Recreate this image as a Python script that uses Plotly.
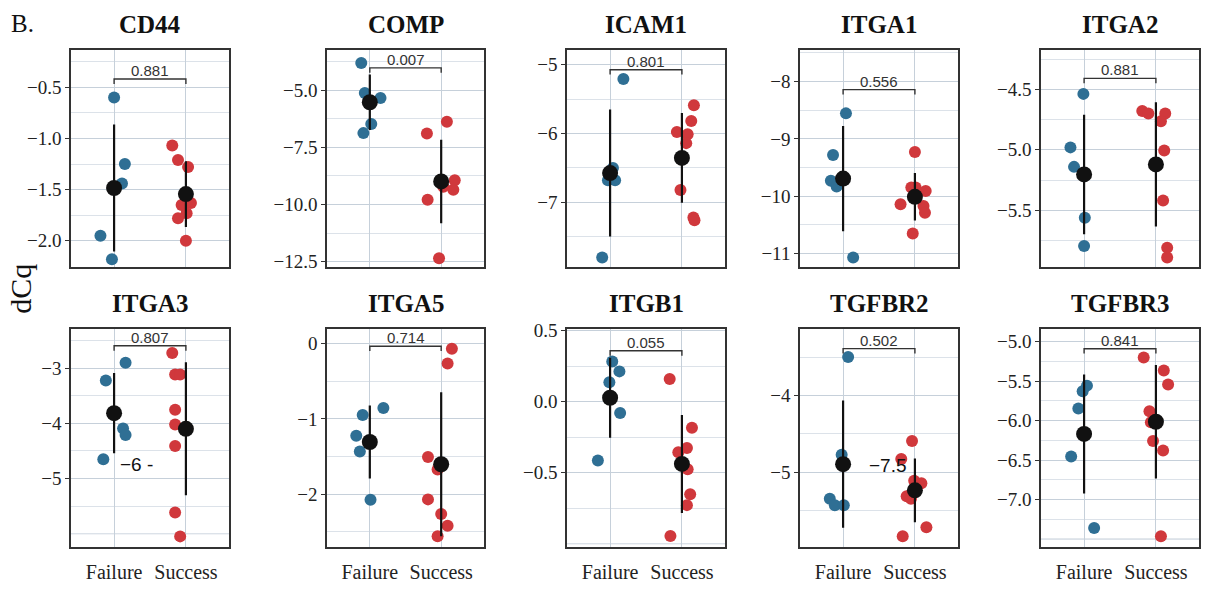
import numpy as np
import plotly.graph_objects as go

# ---------------- data ----------------
genes = ["CD44", "COMP", "ICAM1", "ITGA1", "ITGA2",
         "ITGA3", "ITGA5", "ITGB1", "TGFBR2", "TGFBR3"]
groups = ["Failure", "Success"]

failure_dcq = [
    [-0.60, -1.25, -1.44, -1.95, -2.18],
    [-3.82, -5.13, -5.34, -6.48, -6.88],
    [-5.21, -6.50, -6.68, -6.68, -7.80],
    [-8.555, -9.28, -9.73, -9.83, -11.07],
    [-4.538, -4.98, -5.141, -5.562, -5.795],
    [-2.90, -3.22, -4.09, -4.21, -4.65],
    [-0.857, -0.948, -1.225, -1.433, -2.074],
    [0.283, 0.214, 0.138, -0.080, -0.414],
    [-3.498, -4.774, -5.349, -5.434, -5.434],
    [-5.557, -5.627, -5.845, -6.452, -7.359],
]
success_dcq = [
    [-1.07, -1.21, -1.28, -1.65, -1.63, -1.73, -1.78, -2.00],
    [-6.90, -6.38, -8.94, -9.22, -9.35, -9.79, -12.35, -9.00],
    [-5.59, -5.82, -5.98, -6.01, -6.14, -6.82, -7.22, -7.26],
    [-9.23, -9.85, -9.85, -9.91, -10.14, -10.17, -10.29, -10.65],
    [-4.68, -4.70, -4.70, -4.765, -5.005, -5.418, -5.81, -5.89],
    [-2.72, -3.11, -3.11, -3.75, -4.02, -4.41, -5.615, -6.05],
    [-0.069, -0.264, -1.506, -1.671, -2.069, -2.264, -2.42, -2.558],
    [0.161, -0.184, -0.326, -0.356, -0.476, -0.653, -0.729, -0.947],
    [-4.596, -4.83, -5.115, -5.145, -5.315, -5.35, -5.72, -5.838],
    [-5.202, -5.367, -5.544, -5.882, -6.02, -6.258, -6.377, -7.462],
]
# horizontal jitter (category units)
failure_jitter = [
    [0.00, 0.15, 0.11, -0.19, -0.03],
    [-0.12, -0.07, 0.15, 0.02, -0.09],
    [0.185, 0.04, -0.03, 0.07, -0.11],
    [0.04, -0.14, -0.17, -0.09, 0.14],
    [-0.01, -0.19, -0.14, 0.01, 0.00],
    [0.16, -0.115, 0.125, 0.16, -0.15],
    [0.19, -0.10, -0.19, -0.14, 0.01],
    [0.03, 0.13, -0.01, 0.14, -0.17],
    [0.07, -0.02, -0.185, -0.115, 0.01],
    [0.04, -0.02, -0.08, -0.18, 0.14],
]
success_jitter = [
    [-0.19, -0.11, 0.03, -0.06, 0.07, 0.01, -0.11, 0.00],
    [-0.20, 0.08, 0.19, 0.03, 0.17, -0.19, -0.03, 0.00],
    [0.167, 0.13, -0.07, 0.08, 0.06, -0.02, 0.16, 0.175],
    [0.00, 0.01, -0.05, 0.15, -0.20, 0.12, 0.14, -0.03],
    [-0.19, -0.105, 0.13, 0.07, 0.116, 0.10, 0.157, 0.157],
    [-0.19, -0.15, -0.08, -0.15, -0.15, -0.15, -0.15, -0.08],
    [0.15, 0.09, -0.185, -0.05, -0.185, 0.00, 0.09, -0.05],
    [-0.17, 0.14, 0.07, -0.05, 0.08, 0.115, 0.07, -0.16],
    [-0.04, -0.19, -0.01, 0.09, -0.115, -0.055, 0.16, -0.17],
    [-0.17, 0.11, 0.17, -0.09, -0.07, -0.04, 0.10, 0.07],
]
p_values = ["0.881", "0.007", "0.801", "0.556", "0.881",
            "0.807", "0.714", "0.055", "0.502", "0.841"]
bracket_level = [-0.42, -4.03, -5.075, -8.14, -4.41,
                 -2.59, -0.035, 0.359, -3.39, -5.09]

y_ranges = [
    [-2.258, -0.137], [-12.74, -3.25], [-7.94, -4.79], [-11.24, -7.45], [-5.97, -4.176],
    [-6.237, -2.278], [-2.697, 0.199], [-1.022, 0.516], [-5.974, -3.128], [-7.594, -4.835],
]
tick_values = [
    [-2.0, -1.5, -1.0, -0.5],
    [-12.5, -10.0, -7.5, -5.0],
    [-7, -6, -5],
    [-11, -10, -9, -8],
    [-5.5, -5.0, -4.5],
    [-5, -4, -3],
    [-2, -1, 0],
    [-0.5, 0.0, 0.5],
    [-5, -4],
    [-7.0, -6.5, -6.0, -5.5, -5.0],
]
tick_labels = [
    ["−2.0", "−1.5", "−1.0", "−0.5"],
    ["−12.5", "−10.0", "−7.5", "−5.0"],
    ["−7", "−6", "−5"],
    ["−11", "−10", "−9", "−8"],
    ["−5.5", "−5.0", "−4.5"],
    ["−5", "−4", "−3"],
    ["−2", "−1", "0"],
    ["−0.5", "0.0", "0.5"],
    ["−5", "−4"],
    ["−7.0", "−6.5", "−6.0", "−5.5", "−5.0"],
]
# major grid lines whose labels are missing on the axis
unlabeled_grid = [[], [], [], [], [], [-6], [], [-1.0], [], [-7.5]]
major_step = [0.5, 2.5, 1, 1, 0.5, 1, 1, 0.5, 1, 0.5]

# stray labels present in the original figure
stray_text = ["−6 -", "−7.5"]
stray_panel = [5, 8]
stray_x = [0.31, 0.62]
stray_y = [-4.74, -4.92]

# ---------------- style ----------------
W, H = 1208, 596
col_px = [(71, 229), (327, 484), (567, 725), (800, 958), (1041, 1199)]
row_px = [(43, 265), (327.7, 550.7)]
blue = "#2F6F94"
red = "#D0383C"
major_grid = "#C6D0DA"
minor_grid = "#DCE2E9"
frame = "#333333"
serif = "Liberation Serif"
sans = "Liberation Sans"

fig = go.Figure()
annotations = []
shapes = []

for i, gene in enumerate(genes):
    r, c = divmod(i, 5)
    ax = "" if i == 0 else str(i + 1)
    xref, yref = "x" + ax, "y" + ax
    xd = [col_px[c][0] / W, col_px[c][1] / W]
    yd = [1 - row_px[r][1] / H, 1 - row_px[r][0] / H]

    f = np.array(failure_dcq[i])
    s = np.array(success_dcq[i])
    fig.add_trace(go.Scatter(
        x=np.array(failure_jitter[i]) + 0, y=f, mode="markers",
        marker=dict(color=blue, size=12), xaxis=xref, yaxis=yref,
        showlegend=False, hoverinfo="y"))
    fig.add_trace(go.Scatter(
        x=np.array(success_jitter[i]) + 1, y=s, mode="markers",
        marker=dict(color=red, size=12), xaxis=xref, yaxis=yref,
        showlegend=False, hoverinfo="y"))
    means = [f.mean(), s.mean()]
    sds = [f.std(ddof=1), s.std(ddof=1)]
    fig.add_trace(go.Scatter(
        x=[0, 1], y=means, mode="markers",
        marker=dict(color="#111111", size=16),
        error_y=dict(type="data", array=sds, visible=True, width=0,
                     thickness=2.2, color="#111111"),
        xaxis=xref, yaxis=yref, showlegend=False, hoverinfo="y"))

    for g in unlabeled_grid[i]:
        shapes.append(dict(type="line", xref=xref + " domain", yref=yref,
                           x0=0, x1=1, y0=g, y1=g, layer="below",
                           line=dict(color=major_grid, width=1.3)))

    span = y_ranges[i][1] - y_ranges[i][0]
    drop = 5.0 / (row_px[r][1] - row_px[r][0]) * span
    b = bracket_level[i]
    shapes.append(dict(type="path", xref=xref, yref=yref,
                       path=f"M 0 {b - drop} L 0 {b} L 1 {b} L 1 {b - drop}",
                       line=dict(color=frame, width=1.4)))
    annotations.append(dict(text=p_values[i], x=0.5, y=b, xref=xref, yref=yref,
                            xanchor="center", yanchor="bottom", showarrow=False,
                            yshift=-2, font=dict(family=sans, size=15, color="#333333")))
    annotations.append(dict(text="<b>" + gene + "</b>", x=(xd[0] + xd[1]) / 2,
                            y=yd[1] + 26 / H, xref="paper", yref="paper",
                            xanchor="center", yanchor="middle", showarrow=False,
                            font=dict(family=serif, size=25, color="#111111")))

    fig.layout["xaxis" + ax] = dict(
        domain=xd, anchor=yref, range=[-0.6, 1.6],
        tickmode="array", tickvals=[0, 1], ticktext=groups,
        showticklabels=(r == 1), ticks="", ticklabelstandoff=7,
        tickfont=dict(family=serif, size=20, color="#222222"),
        showgrid=True, gridcolor=major_grid, gridwidth=1.3, zeroline=False,
        showline=True, mirror=True, linecolor=frame, linewidth=1.6)
    fig.layout["yaxis" + ax] = dict(
        domain=yd, anchor=xref, range=y_ranges[i],
        tickmode="array", tickvals=tick_values[i], ticktext=tick_labels[i],
        ticks="outside", ticklen=4, tickwidth=1.2, tickcolor=frame,
        tickfont=dict(family=serif, size=19, color="#222222"),
        showgrid=True, gridcolor=major_grid, gridwidth=1.3, zeroline=False,
        minor=dict(tick0=tick_values[i][0], dtick=major_step[i] / 2,
                   showgrid=True, gridcolor=minor_grid, gridwidth=0.9, ticks=""),
        showline=True, mirror=True, linecolor=frame, linewidth=1.6)

for t, p, sx, sy in zip(stray_text, stray_panel, stray_x, stray_y):
    ax = "" if p == 0 else str(p + 1)
    annotations.append(dict(text=t, x=sx, y=sy, xref="x" + ax, yref="y" + ax,
                            xanchor="center", yanchor="middle", showarrow=False,
                            font=dict(family=sans, size=19, color="#111111")))

annotations.append(dict(text="B.", x=9 / W, y=1 - 16 / H, xref="paper", yref="paper",
                        xanchor="left", yanchor="middle", showarrow=False,
                        font=dict(family=serif, size=25, color="#111111")))
annotations.append(dict(text="dCq", x=21 / W, y=1 - 287 / H, xref="paper", yref="paper",
                        xanchor="center", yanchor="middle", showarrow=False, textangle=-90,
                        font=dict(family=serif, size=30, color="#111111")))

fig.update_layout(
    width=W, height=H, margin=dict(l=0, r=0, t=0, b=0),
    paper_bgcolor="white", plot_bgcolor="white",
    annotations=annotations, shapes=shapes, showlegend=False)

fig.write_html("out.html", config={"displayModeBar": False},
               post_script="document.body.style.margin='0';")
